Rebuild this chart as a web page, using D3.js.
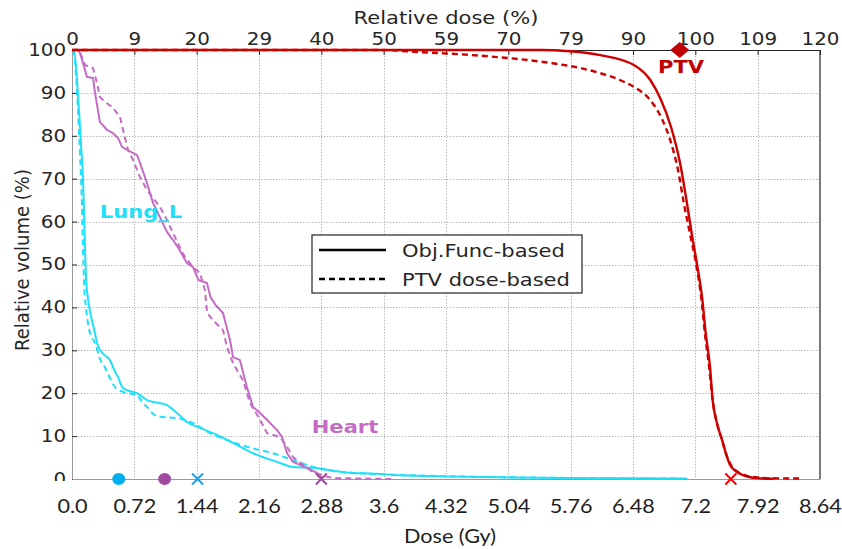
<!DOCTYPE html>
<html>
<head>
<meta charset="utf-8"/>
<title>DVH comparison</title>
<script src="https://cdn.jsdelivr.net/npm/d3@7"></script>
<style>
body { margin: 0; background: #fff; }
svg { display: block; }
</style>
</head>
<body>
<svg id="chart" width="842" height="549"></svg>
<script>
// axis ticks
var doseTicks = [0, 0.72, 1.44, 2.16, 2.88, 3.6, 4.32, 5.04, 5.76, 6.48, 7.2, 7.92, 8.64];
var doseLabels = ["0.0", "0.72", "1.44", "2.16", "2.88", "3.6", "4.32", "5.04", "5.76", "6.48", "7.2", "7.92", "8.64"];
var relTicks = [0, 10, 20, 30, 40, 50, 60, 70, 80, 90, 100, 110, 120];
var relLabels = ["0", "9", "20", "29", "40", "50", "59", "70", "79", "90", "100", "109", "120"];
var volTicks = [0, 10, 20, 30, 40, 50, 60, 70, 80, 90, 100];

// DVH curves, [dose Gy, volume %]
var ptvObj = [[0, 100], [5.41, 100], [5.75, 99.7], [6.10, 98.8], [6.49, 96.5], [6.68, 93], [6.80, 88.5],
  [6.92, 82], [7.02, 74], [7.09, 66], [7.16, 57], [7.22, 50], [7.28, 42], [7.32, 34], [7.37, 26],
  [7.40, 18.4], [7.45, 13], [7.51, 9], [7.56, 5.5], [7.60, 3.3], [7.67, 1.8], [7.75, 0.9], [7.91, 0.2], [8.10, 0.05]];
var ptvDose = [[0, 100], [3.56, 100], [4.02, 99.5], [4.48, 99.0], [5.05, 98.1], [5.52, 97], [5.87, 95.8],
  [6.10, 94.6], [6.33, 93], [6.49, 91.4], [6.68, 88.3], [6.82, 83.7], [6.91, 79], [7.00, 72], [7.07, 64],
  [7.14, 57], [7.21, 50], [7.27, 42], [7.31, 34], [7.36, 26], [7.40, 18.4], [7.45, 13], [7.51, 9],
  [7.56, 5.5], [7.61, 3.3], [7.68, 1.8], [7.77, 0.9], [7.95, 0.3], [8.18, 0.15], [8.44, 0.1]];
var lungObj = [[0, 100], [0.023, 100], [0.058, 93], [0.081, 86], [0.104, 78], [0.127, 70], [0.139, 62],
  [0.150, 54], [0.162, 47], [0.185, 42], [0.219, 38], [0.254, 35], [0.300, 31], [0.370, 29], [0.439, 27.7],
  [0.497, 25], [0.531, 23.8], [0.578, 21.5], [0.635, 20.7], [0.751, 20], [0.866, 18.4], [0.982, 17.8],
  [1.097, 17.2], [1.212, 15.4], [1.328, 13.3], [1.478, 11.9], [1.675, 10.3], [1.860, 8.4], [2.091, 6],
  [2.368, 4], [2.553, 2.8], [2.784, 2.6], [3.130, 1.6], [3.523, 1.2], [3.789, 0.9], [4.366, 0.6],
  [4.944, 0.4], [5.637, 0.25], [6.330, 0.15], [7.104, 0.1]];
var lungDose = [[0, 100], [0.023, 99], [0.046, 94], [0.069, 86], [0.092, 76], [0.115, 64], [0.127, 54],
  [0.139, 46], [0.162, 40], [0.196, 35], [0.231, 33], [0.266, 31.7], [0.323, 28], [0.381, 26], [0.439, 23.5],
  [0.497, 21.4], [0.589, 20.3], [0.751, 19.6], [0.808, 18], [0.866, 16.8], [0.936, 15.2], [1.016, 14.5],
  [1.212, 14.2], [1.398, 13], [1.594, 10.7], [1.790, 9.1], [2.021, 7.5], [2.321, 6], [2.553, 4.4],
  [2.784, 2.8], [2.945, 2.1], [3.153, 1.6], [3.558, 1.1], [4.020, 0.8], [4.713, 0.5], [5.522, 0.3],
  [6.330, 0.15], [7.023, 0.1]];
var heartObj = [[0, 100], [0.07, 100], [0.092, 99.3], [0.127, 97], [0.173, 93.7], [0.243, 93.5], [0.266, 90],
  [0.323, 83.2], [0.404, 81.4], [0.474, 80.6], [0.531, 79.5], [0.578, 77.4], [0.635, 76.7], [0.751, 75.5],
  [0.785, 73.7], [0.866, 69], [0.936, 64.3], [1.016, 61], [1.097, 57.6], [1.167, 55.7], [1.224, 54],
  [1.328, 50.3], [1.398, 49.4], [1.46, 46.4], [1.559, 45.7], [1.60, 42.4], [1.66, 40.5], [1.744, 38.7],
  [1.825, 32.4], [1.860, 28.4], [1.940, 27.7], [2.021, 21.4], [2.091, 16.8], [2.172, 15.4], [2.252, 13.8],
  [2.368, 11.4], [2.426, 9.8], [2.484, 6], [2.553, 4], [2.714, 2.6], [2.830, 1.4], [2.899, 0]];
var heartDose = [[0, 100], [0.07, 100], [0.092, 99.5], [0.150, 96.5], [0.243, 95.8], [0.289, 92.3],
  [0.323, 89], [0.404, 87.6], [0.474, 86.5], [0.554, 84.4], [0.589, 81.4], [0.647, 76.7], [0.705, 74.4],
  [0.785, 70.4], [0.866, 67.4], [0.936, 65.5], [1.016, 63.4], [1.097, 60.4], [1.167, 57.3], [1.247, 54],
  [1.305, 51.7], [1.398, 49.4], [1.478, 48], [1.536, 44], [1.56, 38.7], [1.629, 37], [1.744, 34.7],
  [1.79, 30.8], [1.860, 27], [1.975, 23], [2.056, 17.7], [2.172, 13.8], [2.252, 10.7], [2.402, 9.8],
  [2.484, 7.5], [2.553, 5.1], [2.668, 3.3], [2.784, 1.6], [2.945, 0.5], [3.06, 0.2], [3.71, 0]];

// markers on the dose axis
var meanDoses = [0.54, 1.07];     // Lung_L, Heart
var maxDoses = [1.45, 2.88, 7.61]; // Lung_L, Heart, PTV
var ptvPrescription = [7.02, 100];

var lungColor = "#1ee0fa", heartColor = "#c46cc4", ptvColor = "#cc0000";

var svg = d3.select("#chart");
var L = 72, R = 820, T = 50, B = 479;
var stretch = "scale(1.17,1)";

var x = d3.scaleLinear().domain([0, 8.64]).range([L, R]);
var xRel = d3.scaleLinear().domain([0, 120]).range([L, R]);
var y = d3.scaleLinear().domain([0, 100]).range([B, T]);

// grid
var grid = svg.append("g").attr("stroke", "#b8b8b8").attr("stroke-width", 1).attr("stroke-dasharray", "1.5,1.5");
grid.selectAll("line.v").data(doseTicks.slice(1, -1)).enter().append("line").attr("class", "v")
  .attr("x1", function(d) { return Math.round(x(d)) + 0.5; })
  .attr("x2", function(d) { return Math.round(x(d)) + 0.5; })
  .attr("y1", T).attr("y2", B);
grid.selectAll("line.h").data(volTicks.slice(1, -1)).enter().append("line").attr("class", "h")
  .attr("x1", L).attr("x2", R)
  .attr("y1", function(d) { return Math.round(y(d)) + 0.5; })
  .attr("y2", function(d) { return Math.round(y(d)) + 0.5; });

// frame
svg.append("line").attr("x1", R).attr("x2", R).attr("y1", T).attr("y2", B).attr("stroke", "#222").attr("stroke-width", 1.2);

// axes
var gTop = svg.append("g").attr("transform", "translate(0," + T + ")")
  .call(d3.axisTop(xRel).tickValues(relTicks).tickFormat(function(d, i) { return relLabels[i]; })
    .tickSizeInner(-5).tickSizeOuter(0).tickPadding(5));
gTop.attr("font-family", "DejaVu Sans").attr("font-size", 17).attr("color", "#262626");
gTop.selectAll("text").attr("transform", stretch);

var gLeft = svg.append("g").attr("transform", "translate(" + L + ",0)")
  .call(d3.axisLeft(y).tickValues(volTicks).tickSizeInner(-5).tickSizeOuter(0).tickPadding(5));
gLeft.attr("font-family", "DejaVu Sans").attr("font-size", 17).attr("color", "#262626");
gLeft.selectAll("text").attr("transform", stretch);
gLeft.select(".domain").attr("stroke", "#9a9a9a");

// the zero label is cut by the lower axis band in the original
svg.append("rect").attr("x", 0).attr("y", 481).attr("width", L - 1).attr("height", 20).attr("fill", "#fff");

var gBottom = svg.append("g").attr("transform", "translate(0," + B + ")")
  .call(d3.axisBottom(x).tickValues(doseTicks).tickFormat(function(d, i) { return doseLabels[i]; })
    .tickSizeInner(0).tickSizeOuter(0).tickPadding(21));
gBottom.attr("font-family", "Lato").attr("font-size", 18.5).attr("color", "#1e1e1e");
gBottom.selectAll("text").attr("transform", stretch);
gBottom.select(".domain").attr("stroke", "#9a9a9a");

// axis titles
svg.append("text").attr("transform", "translate(446,24) " + stretch)
  .attr("text-anchor", "middle").attr("font-family", "DejaVu Sans").attr("font-size", 18).attr("fill", "#262626")
  .text("Relative dose (%)");
svg.append("text").attr("transform", "translate(29,260) rotate(-90) scale(1,1.12)")
  .attr("text-anchor", "middle").attr("font-family", "DejaVu Sans").attr("font-size", 18).attr("fill", "#262626")
  .text("Relative volume (%)");
svg.append("text").attr("transform", "translate(450,543) " + stretch)
  .attr("text-anchor", "middle").attr("font-family", "Lato").attr("font-size", 18.5).attr("fill", "#1e1e1e")
  .text("Dose (Gy)");

// curves
var line = d3.line().x(function(d) { return x(d[0]); }).y(function(d) { return y(d[1]); });
var smooth = d3.line().curve(d3.curveMonotoneX).x(function(d) { return x(d[0]); }).y(function(d) { return y(d[1]); });
var curves = [
  { data: lungDose, color: lungColor, dash: "6,4", w: 2, gen: smooth },
  { data: lungObj, color: lungColor, dash: null, w: 2, gen: smooth },
  { data: heartDose, color: heartColor, dash: "6,4", w: 2, gen: line },
  { data: heartObj, color: heartColor, dash: null, w: 2, gen: line },
  { data: ptvDose, color: ptvColor, dash: "6,4", w: 2.4, gen: smooth },
  { data: ptvObj, color: ptvColor, dash: null, w: 2.4, gen: smooth }
];
svg.append("g").selectAll("path").data(curves).enter().append("path")
  .attr("d", function(d) { return d.gen(d.data); })
  .attr("fill", "none")
  .attr("stroke", function(d) { return d.color; })
  .attr("stroke-width", function(d) { return d.w; })
  .attr("stroke-dasharray", function(d) { return d.dash; })
  .attr("stroke-linejoin", "round");

// markers
var dotColors = ["#00aeef", "#a2499f"];
svg.append("g").selectAll("ellipse").data(meanDoses).enter().append("ellipse")
  .attr("cx", function(d) { return x(d); }).attr("cy", y(0))
  .attr("rx", 6.5).attr("ry", 6)
  .attr("fill", function(d, i) { return dotColors[i]; });

var crossColors = ["#1aa3e8", "#a2499f", "#ff0000"];
svg.append("g").selectAll("path").data(maxDoses).enter().append("path")
  .attr("d", function(d) {
    var cx = x(d), cy = y(0), s = 5.5;
    return "M" + (cx - s) + "," + (cy - s) + "L" + (cx + s) + "," + (cy + s) +
      "M" + (cx - s) + "," + (cy + s) + "L" + (cx + s) + "," + (cy - s);
  })
  .attr("stroke", function(d, i) { return crossColors[i]; })
  .attr("stroke-width", 2).attr("fill", "none");

svg.append("path")
  .attr("d", function() {
    var cx = x(ptvPrescription[0]), cy = y(ptvPrescription[1]);
    return "M" + cx + "," + (cy - 8) + "L" + (cx + 9.5) + "," + cy + "L" + cx + "," + (cy + 8) + "L" + (cx - 9.5) + "," + cy + "Z";
  })
  .attr("fill", "#c00000");

// structure labels
var labels = [
  { text: "PTV", x: 681, y: 73, color: "#c00000" },
  { text: "Lung_L", x: 141, y: 218, color: lungColor },
  { text: "Heart", x: 345, y: 433, color: heartColor }
];
svg.append("g").selectAll("text").data(labels).enter().append("text")
  .attr("transform", function(d) { return "translate(" + d.x + "," + d.y + ") " + stretch; })
  .attr("text-anchor", "middle")
  .attr("font-family", "DejaVu Sans").attr("font-weight", "bold").attr("font-size", 18)
  .attr("fill", function(d) { return d.color; })
  .text(function(d) { return d.text; });

// legend
var legendItems = [{ name: "Obj.Func-based", dash: null }, { name: "PTV dose-based", dash: "6,4" }];
var lg = svg.append("g").attr("transform", "translate(312,235)");
lg.append("rect").attr("x", 0).attr("y", 0).attr("width", 270).attr("height", 58)
  .attr("fill", "#fff").attr("stroke", "#333").attr("stroke-width", 1.3);
var li = lg.selectAll("g.item").data(legendItems).enter().append("g").attr("class", "item")
  .attr("transform", function(d, i) { return "translate(0," + (15 + i * 29) + ")"; });
li.append("line").attr("x1", 7).attr("x2", 74).attr("y1", 0).attr("y2", 0)
  .attr("stroke", "#000").attr("stroke-width", 2.6)
  .attr("stroke-dasharray", function(d) { return d.dash; });
li.append("text").attr("transform", "translate(90,7) " + stretch)
  .attr("font-family", "DejaVu Sans").attr("font-size", 18).attr("fill", "#262626")
  .text(function(d) { return d.name; });
</script>
</body>
</html>
